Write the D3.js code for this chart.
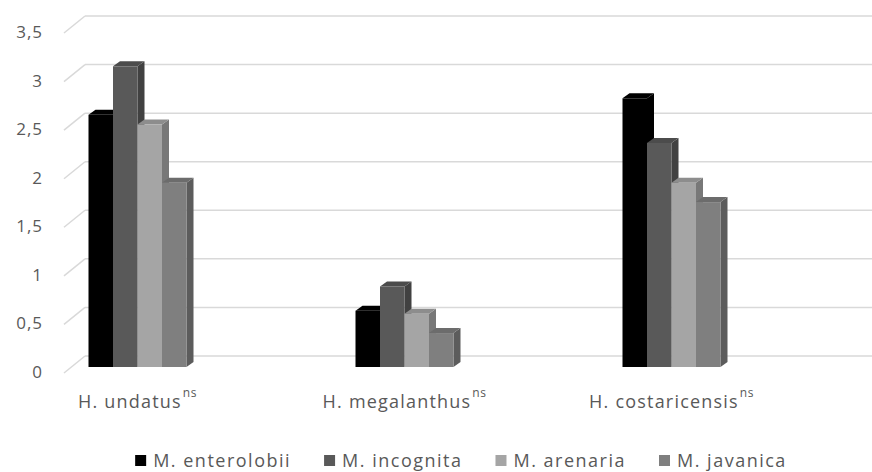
<!DOCTYPE html>
<html>
<head>
<meta charset="utf-8">
<script src="https://cdn.jsdelivr.net/npm/d3@7"></script>
<style>
  body { margin: 0; background: #fff; }
  svg text { font-family: "Open Sans", sans-serif; fill: #595959; }
</style>
</head>
<body>
<div id="chart"></div>
<script>
// data
const categories = ["H. undatus", "H. megalanthus", "H. costaricensis"];
const series = ["M. enterolobii", "M. incognita", "M. arenaria", "M. javanica"];
const seriesColors = ["#000000", "#595959", "#a5a5a5", "#7f7f7f"];
const values = [
    [2.6, 0.58, 2.77],   // M. enterolobii
    [3.1, 0.83, 2.31],   // M. incognita
    [2.5, 0.55, 1.9],    // M. arenaria
    [1.9, 0.35, 1.7]     // M. javanica
];
const yTicks = [0, 0.5, 1, 1.5, 2, 2.5, 3, 3.5];
const yTickLabels = ["0", "0,5", "1", "1,5", "2", "2,5", "3", "3,5"];

const width = 872;
const height = 472;

const svg = d3.select("#chart")
    .append("svg")
    .attr("width", width)
    .attr("height", height);

//back wall and front edge scales
const yGrid = d3.scaleLinear().domain([0, 3.5]).range([356, 16]);
const yBar = d3.scaleLinear().domain([0, 3.5]).range([367, 27.5]);

const diagX = 21, diagY = 17;
const wallLeft = 85;

//groups and bars inside a group
const xScale = d3.scalePoint()
    .domain(categories)
    .range([4, 805])
    .padding(0.5);

const xSeries = d3.scaleBand()
    .domain(series)
    .range([-49, 49]);

const depthX = 7, depthY = -5;

//gridlines with the short diagonal in front
const grid = svg.append("g");
yTicks.forEach(function(t) {
    const yb = yGrid(t);
    grid.append("line")
        .attr("x1", wallLeft).attr("x2", width)
        .attr("y1", yb).attr("y2", yb)
        .attr("stroke", "#d9d9d9").attr("stroke-width", 1.5);
    grid.append("line")
        .attr("x1", wallLeft - diagX).attr("y1", yb + diagY)
        .attr("x2", wallLeft).attr("y2", yb)
        .attr("stroke", "#d9d9d9").attr("stroke-width", 1.5);
});

//y labels
svg.append("g")
    .selectAll("text")
    .data(yTicks)
    .enter()
    .append("text")
    .attr("x", 43)
    .attr("y", function(d) { return yGrid(d) + diagY - 1; })
    .attr("dy", "0.35em")
    .attr("text-anchor", "end")
    .style("font-size", "17px")
    .style("letter-spacing", "1px")
    .text(function(d, i) { return yTickLabels[i]; });

//bars, drawn left to right so each front covers the previous side
const bars = [];
categories.forEach(function(cat, ci) {
    series.forEach(function(s, si) {
        bars.push({ cat: cat, series: s, si: si, value: values[si][ci] });
    });
});

const barG = svg.append("g");
bars.forEach(function(d) {
    const x0 = xScale(d.cat) + xSeries(d.series);
    const x1 = x0 + xSeries.bandwidth();
    const y0 = yBar(0);
    const y = yBar(d.value);
    const c = seriesColors[d.si];
    const side = d.si === 0 ? c : d3.color(c).darker(0.9).formatHex();
    const top = d.si === 0 ? c : d3.color(c).darker(0.45).formatHex();

    barG.append("polygon")
        .attr("points", [[x1, y], [x1 + depthX, y + depthY], [x1 + depthX, y0 + depthY], [x1, y0]].join(" "))
        .attr("fill", side);
    barG.append("polygon")
        .attr("points", [[x0, y], [x0 + depthX, y + depthY], [x1 + depthX, y + depthY], [x1, y]].join(" "))
        .attr("fill", top);
    barG.append("rect")
        .attr("x", x0)
        .attr("y", y)
        .attr("width", xSeries.bandwidth())
        .attr("height", y0 - y)
        .attr("fill", c);
});

//category labels with superscript ns
const catLabels = svg.append("g")
    .selectAll("text")
    .data(categories)
    .enter()
    .append("text")
    .attr("x", function(d) { return xScale(d); })
    .attr("y", 408)
    .attr("text-anchor", "middle")
    .style("font-size", "18px")
    .style("letter-spacing", "1.2px");

catLabels.append("tspan").text(function(d) { return d; });
catLabels.append("tspan")
    .attr("dy", -11)
    .attr("dx", 1)
    .style("font-size", "12px")
    .style("letter-spacing", "0.5px")
    .text("ns");

//legend
const legend = svg.append("g");
let lx = 0;
const gap = 33;
series.forEach(function(s, i) {
    const g = legend.append("g").attr("transform", "translate(" + lx + ",0)");
    g.append("rect")
        .attr("x", 0).attr("y", 455)
        .attr("width", 11).attr("height", 11)
        .attr("fill", seriesColors[i]);
    const t = g.append("text")
        .attr("x", 18).attr("y", 467)
        .style("font-size", "18px")
        .style("letter-spacing", "1.5px")
        .text(s);
    const w = t.node().getComputedTextLength();
    lx += 18 + w + gap;
});
const legendWidth = lx - gap;
legend.attr("transform", "translate(" + (461 - legendWidth / 2) + ",0)");
</script>
</body>
</html>
